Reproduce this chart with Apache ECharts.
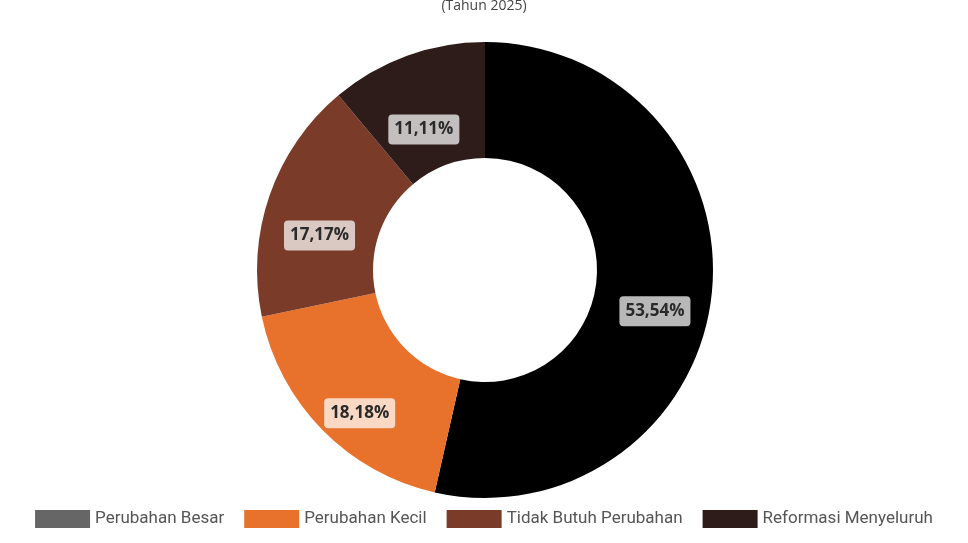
<!DOCTYPE html>
<html>
<head>
<meta charset="utf-8">
<script src="https://cdn.jsdelivr.net/npm/echarts@6/dist/echarts.min.js"></script>
<style>html,body{margin:0;padding:0;background:#fff;}#c{width:968px;height:543px;}</style>
</head>
<body>
<div id="c"></div>
<script>
var categories = ['Perubahan Besar', 'Perubahan Kecil', 'Tidak Butuh Perubahan', 'Reformasi Menyeluruh'];
var values = [53.54, 18.18, 17.17, 11.11];
var sliceColors = ['#000000', '#E8722B', '#7A3B29', '#2D1C19'];
var legendColors = ['#666666', '#E8722B', '#7A3B29', '#2D1C19'];

var chart = echarts.init(document.getElementById('c'));
chart.setOption({
  animation: false,
  title: {
    text: '(Tahun 2025)',
    left: 'center',
    top: -6,
    textStyle: { fontFamily: 'Open Sans', fontSize: 14, fontWeight: 'normal', color: '#444' }
  },
  legend: {
    bottom: 10,
    left: 'center',
    itemWidth: 55,
    itemHeight: 18,
    itemGap: 20,
    icon: 'rect',
    textStyle: { fontFamily: 'Roboto', fontSize: 17, color: '#555' },
    data: categories.map(function (n, i) { return { name: n, itemStyle: { color: legendColors[i] } }; })
  },
  series: [{
    type: 'pie',
    center: [485, 270],
    radius: [112, 228],
    startAngle: 90,
    clockwise: true,
    label: {
      show: true,
      position: 'inside',
      offset: [-2, 22],
      formatter: function (p) { return p.value.toFixed(2).replace('.', ',') + '%'; },
      fontFamily: 'Open Sans',
      fontSize: 17,
      fontWeight: 'bold',
      color: '#2a2a2a',
      backgroundColor: 'rgba(255,255,255,0.72)',
      padding: [7, 6, 6, 6],
      borderRadius: 4
    },
    labelLine: { show: false },
    itemStyle: { borderWidth: 0 },
    data: categories.map(function (n, i) { return { name: n, value: values[i], itemStyle: { color: sliceColors[i] } }; })
  }]
});
</script>
</body>
</html>
